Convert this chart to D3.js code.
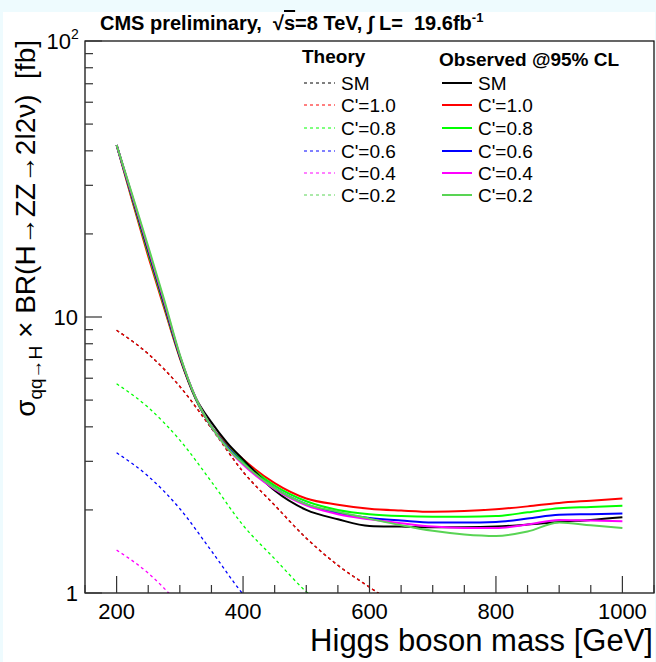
<!DOCTYPE html>
<html><head><meta charset="utf-8">
<script src="https://cdn.jsdelivr.net/npm/d3@7"></script>
<style>
html,body{margin:0;padding:0;background:#eefbfe;}
svg{display:block;font-family:"Liberation Sans",Arial,Helvetica,sans-serif;}
text{white-space:pre;}
</style></head>
<body>
<svg id="chart" width="656" height="662"></svg>
<script>
// ---- data ----
const massObs = [200,225,250,275,300,325,350,375,400,450,500,550,600,650,700,750,800,850,900,950,1000];
const obsSM   = [42,27.1,17.5,11.3,7.2,5.1,4.15,3.5,3.05,2.35,2.0,1.85,1.75,1.74,1.73,1.73,1.74,1.77,1.81,1.84,1.88];
const obsC10  = [42,26.2,16.6,10.8,7.1,5.05,4.0,3.45,3.05,2.5,2.2,2.09,2.02,1.99,1.97,1.98,2.01,2.06,2.12,2.16,2.20];
const obsC08  = [42,26.6,17.0,11.0,7.15,5.05,4.0,3.4,3.0,2.45,2.15,2.0,1.93,1.90,1.89,1.89,1.90,1.96,2.03,2.05,2.07];
const obsC06  = [42,27.0,17.4,11.2,7.2,5.08,4.0,3.38,2.95,2.4,2.1,1.95,1.87,1.83,1.80,1.80,1.81,1.86,1.92,1.93,1.94];
const obsC04  = [42,27.3,17.7,11.4,7.25,5.1,4.0,3.35,2.92,2.38,2.08,1.93,1.85,1.79,1.74,1.72,1.72,1.77,1.84,1.83,1.82];
const obsC02  = [42,27.6,18.0,11.6,7.3,5.1,4.0,3.35,2.95,2.4,2.1,1.97,1.86,1.76,1.68,1.63,1.61,1.67,1.80,1.76,1.72];

const massTh  = [200,250,300,350,400,450,500,550,600,650,700];
const thSM    = [8.95,7.35,5.6,3.95,2.75,2.08,1.58,1.26,1.05,0.88,0.75];
const thC10   = [8.95,7.35,5.6,3.95,2.75,2.08,1.58,1.26,1.05,0.88,0.75];
const thC08   = [5.73,4.70,3.58,2.53,1.76,1.33,1.01,0.81,0.67,0.56,0.48];
const thC06   = [3.22,2.65,2.02,1.42,0.99,0.75,0.57,0.45,0.38,0.32,0.27];
const thC04   = [1.43,1.18,0.90,0.63,0.44,0.33,0.25,0.20,0.17,0.14,0.12];
const thC02   = [0.36,0.29,0.22,0.16,0.11,0.083,0.063,0.050,0.042,0.035,0.030];

const seriesLabels = ["SM","C'=1.0","C'=0.8","C'=0.6","C'=0.4","C'=0.2"];
const seriesColors = ["#000000","#ff0000","#00ff00","#0000ff","#ff00ff","#59d454"];
const xTicksMajor = [200,400,600,800,1000];
const yTickLabels = [{v:1,t:"1"},{v:10,t:"10"},{v:100,t:"10",sup:"2"}];

// ---- layout ----
const svg = d3.select("#chart");
const L=85, R=654, T=41, B=593;
svg.append("rect").attr("x",3).attr("y",12).attr("width",652).attr("height",650).attr("fill","#fff");

const x = d3.scaleLinear().domain([150,1050]).range([L,R]);
const y = d3.scaleLog().domain([1,100]).range([B,T]);

svg.append("defs").append("clipPath").attr("id","clip")
  .append("rect").attr("x",L).attr("y",T).attr("width",R-L).attr("height",B-T);

const g = svg.append("g").attr("clip-path","url(#clip)");
const line = d3.line().curve(d3.curveMonotoneX);

const theory = [thSM,thC10,thC08,thC06,thC04,thC02];
theory.forEach((s,i)=>{
  g.append("path").attr("d", line(massTh.map((m,j)=>[x(m),y(s[j])])))
   .attr("fill","none").attr("stroke",seriesColors[i]).attr("stroke-width",1.3)
   .attr("stroke-dasharray","3,3");
});
const observed = [obsSM,obsC10,obsC08,obsC06,obsC04,obsC02];
const drawOrder=[1,2,3,0,4,5];
drawOrder.forEach(i=>{
  const s=observed[i];
  g.append("path").attr("d", line(massObs.map((m,j)=>[x(m),y(s[j])])))
   .attr("fill","none").attr("stroke",seriesColors[i]).attr("stroke-width",2);
});

// frame
svg.append("rect").attr("x",L).attr("y",T).attr("width",R-L).attr("height",B-T)
  .attr("fill","none").attr("stroke","#000").attr("stroke-width",1.2);

// x ticks
const xMinor = d3.range(150,1051,50);
svg.selectAll(".xt").data(xMinor).enter().append("line")
  .attr("x1",d=>x(d)).attr("x2",d=>x(d)).attr("y1",B)
  .attr("y2",d=>xTicksMajor.includes(d)?B-17:B-8)
  .attr("stroke","#333").attr("stroke-width",1.2);
svg.selectAll(".xl").data(xTicksMajor).enter().append("text")
  .attr("x",d=>x(d)).attr("y",619).attr("text-anchor","middle")
  .attr("font-size",22).text(d=>d);

// y ticks
const yMinor=[];
[1,10].forEach(dec=>{for(let k=1;k<10;k++) yMinor.push(dec*k);});
yMinor.push(100);
svg.selectAll(".yt").data(yMinor).enter().append("line")
  .attr("y1",d=>y(d)).attr("y2",d=>y(d)).attr("x1",L)
  .attr("x2",d=>([1,10,100].includes(d)?L+17:L+8))
  .attr("stroke","#333").attr("stroke-width",1.2);
yTickLabels.forEach(d=>{
  svg.append("text").attr("x",d.sup?71:78).attr("y",y(d.v)+8)
    .attr("text-anchor","end").attr("font-size",22).text(d.t);
  if(d.sup){
    svg.append("text").attr("x",71).attr("y",y(d.v)-2).attr("font-size",14).text(d.sup);
  }
});

// axis titles
svg.append("text").attr("x",653).attr("y",651).attr("text-anchor","end")
  .attr("font-size",31).text("Higgs boson mass [GeV]");

const yt = svg.append("text").attr("transform","translate(35,40) rotate(-90)")
  .attr("text-anchor","end").attr("font-size",28);
yt.append("tspan").text("σ");
yt.append("tspan").attr("font-size",19).attr("dy",7).text("qq→H");
yt.append("tspan").attr("dy",-7).text(" × BR(H→ZZ→2l2ν)  [fb]");

// title
const tt = svg.append("text").attr("x",100).attr("y",30).attr("font-size",20)
  .attr("font-weight","bold");
tt.append("tspan").text("CMS preliminary,  √");
tt.append("tspan").attr("text-decoration","overline").text("s");
tt.append("tspan").text("=8 TeV, ∫ L=  19.6fb");
tt.append("tspan").attr("font-size",13).attr("dy",-8).text("-1");

// legends
const legY = [83,105,128,151,173,195];
svg.append("text").attr("x",302).attr("y",63).attr("font-size",19).attr("font-weight","bold").text("Theory");
svg.append("text").attr("x",439).attr("y",66).attr("font-size",19).attr("font-weight","bold").text("Observed @95% CL");
seriesLabels.forEach((lab,i)=>{
  svg.append("line").attr("x1",304).attr("x2",335).attr("y1",legY[i]).attr("y2",legY[i])
    .attr("stroke",seriesColors[i]).attr("stroke-width",1).attr("stroke-dasharray","3,3");
  svg.append("text").attr("x",341).attr("y",legY[i]+7).attr("font-size",19).text(lab);
  svg.append("line").attr("x1",442).attr("x2",472).attr("y1",legY[i]).attr("y2",legY[i])
    .attr("stroke",seriesColors[i]).attr("stroke-width",2);
  svg.append("text").attr("x",478).attr("y",legY[i]+7).attr("font-size",19).text(lab);
});
</script>
</body></html>
